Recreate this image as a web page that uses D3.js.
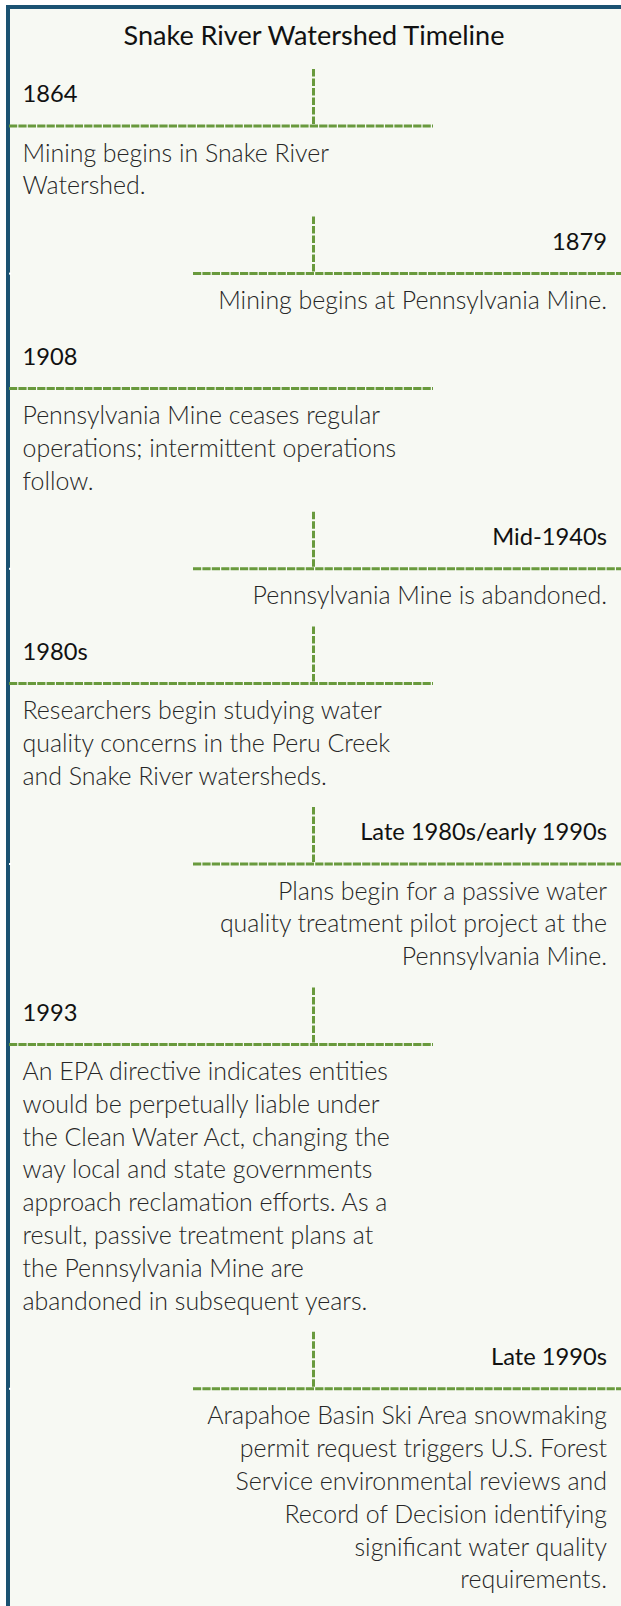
<!DOCTYPE html>
<html><head><meta charset="utf-8">
<script src="https://cdn.jsdelivr.net/npm/d3@7"></script>
<style>html,body{margin:0;padding:0;background:#fff;} svg{display:block}</style>
</head><body>
<svg id="chart" width="621" height="1606"></svg>
<script>
const chartTitle = "Snake River Watershed Timeline";
const eventLabels = ["1864", "1879", "1908", "Mid-1940s", "1980s", "Late 1980s/early 1990s", "1993", "Late 1990s"];
const eventSides = ["left", "right", "left", "right", "left", "right", "left", "right"];
const eventHasStem = [true, true, false, true, true, true, true, true];
const eventLines = [
  ["Mining begins in Snake River", "Watershed."],
  ["Mining begins at Pennsylvania Mine."],
  ["Pennsylvania Mine ceases regular", "operations; intermittent operations", "follow."],
  ["Pennsylvania Mine is abandoned."],
  ["Researchers begin studying water", "quality concerns in the Peru Creek", "and Snake River watersheds."],
  ["Plans begin for a passive water", "quality treatment pilot project at the", "Pennsylvania Mine."],
  ["An EPA directive indicates entities", "would be perpetually liable under", "the Clean Water Act, changing the", "way local and state governments", "approach reclamation efforts. As a", "result, passive treatment plans at", "the Pennsylvania Mine are", "abandoned in subsequent years."],
  ["Arapahoe Basin Ski Area snowmaking", "permit request triggers U.S. Forest", "Service environmental reviews and", "Record of Decision identifying", "significant water quality", "requirements."]
];

const W = 621, H = 1606;
const svg = d3.select("#chart");
const FONT = "Lato, 'Open Sans', sans-serif";
const GREEN = "#699a3d";

// measure helper to emulate narrow Calibri metrics
function fitSize(text, weight, target) {
  const t = svg.append("text").attr("font-family", FONT).attr("font-weight", weight)
    .attr("font-size", 100).text(text);
  const w = t.node().getComputedTextLength();
  t.remove();
  return 100 * target / w;
}
const titleSize = fitSize(chartTitle, 400, 381);
const labelSize = fitSize("Late 1980s/early 1990s", 400, 247);
const bodySize = fitSize("Mining begins at Pennsylvania Mine.", 300, 389);

// background + frame
svg.append("rect").attr("x", 0).attr("y", 0).attr("width", W).attr("height", H).attr("fill", "#ffffff");
svg.append("rect").attr("x", 6).attr("y", 5).attr("width", W - 6).attr("height", H - 5).attr("fill", "#f7f9f3");
svg.append("rect").attr("x", 6).attr("y", 5).attr("width", W - 6).attr("height", 4).attr("fill", "#1b5272");
svg.append("rect").attr("x", 6).attr("y", 5).attr("width", 4).attr("height", H - 5).attr("fill", "#1b5272");

// vertical layout in line units
const starts = [];
let u = 0;
eventLines.forEach((lines, i) => { starts.push(u); u += 2.5 + lines.length; });
const y = d3.scaleLinear().domain([0, 1]).range([126, 126 + 32.8]);

// title
svg.append("text").attr("x", 314).attr("y", 36).attr("dy", "0.35em")
  .attr("text-anchor", "middle").attr("font-family", FONT).attr("font-size", titleSize)
  .attr("fill", "#111").text(chartTitle);

const cx = 313.5;
const g = svg.append("g");
eventLabels.forEach((lab, i) => {
  const hy = y(starts[i]);
  const left = eventSides[i] === "left";
  const x0 = left ? 9 : 193, x1 = left ? 433 : 621;
  g.append("line").attr("x1", x0).attr("x2", x1).attr("y1", hy).attr("y2", hy)
    .attr("stroke", GREEN).attr("stroke-width", 3).attr("stroke-dasharray", "8.2,1.2");
  if (eventHasStem[i]) {
    g.append("line").attr("x1", cx).attr("x2", cx).attr("y1", hy - 57).attr("y2", hy)
      .attr("stroke", GREEN).attr("stroke-width", 3).attr("stroke-dasharray", "7.5,2");
  }
  if (!left) {
    g.append("rect").attr("x", 9).attr("y", hy - 1).attr("width", 2).attr("height", 2).attr("fill", "#fff");
  }
  const tx = left ? 22.5 : 607;
  const anchor = left ? "start" : "end";
  g.append("text").attr("x", tx).attr("y", y(starts[i] - 0.97)).attr("dy", "0.35em")
    .attr("text-anchor", anchor).attr("font-family", FONT).attr("font-size", labelSize)
    .attr("fill", "#111").text(lab);
  eventLines[i].forEach((line, k) => {
    g.append("text").attr("x", tx).attr("y", y(starts[i] + 0.82 + k)).attr("dy", "0.35em")
      .attr("text-anchor", anchor).attr("font-family", FONT).attr("font-weight", 300)
      .attr("font-size", bodySize).attr("fill", "#262626").text(line);
  });
});
</script>
</body></html>
